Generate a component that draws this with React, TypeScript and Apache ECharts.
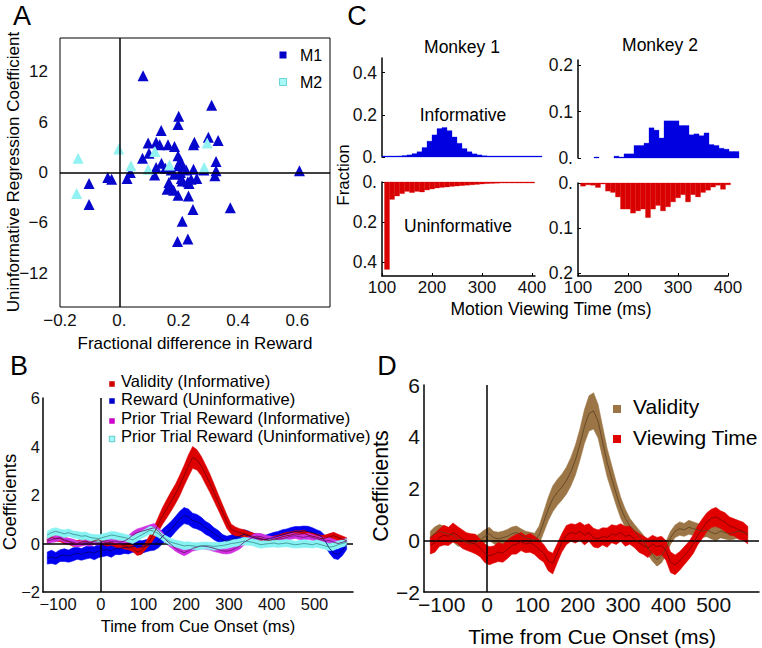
import React, { useEffect, useRef } from 'react';
import * as echarts from 'echarts';

const FONT = '"Liberation Sans", Arial, Helvetica, sans-serif';

// ---------- Panel A ----------
const m1Points: number[][] = [
  [0.08, 11.5], [-0.102, -1.3], [-0.102, -3.8], [-0.039, -0.6], [-0.026, -0.8], [0.026, -0.7],
  [0.037, 0.0], [0.078, 1.7], [0.097, 3.5], [0.1, 2.3], [0.124, 3.6], [0.136, 3.3], [0.141, 5.0],
  [0.142, 1.1], [0.119, -0.3], [0.124, 0.6], [0.164, 3.3], [0.186, 3.1], [0.2, 6.7], [0.198, 5.7],
  [0.198, 2.0], [0.206, 1.4], [0.198, 0.8], [0.21, 0.9], [0.206, 0.0], [0.209, -0.7], [0.212, -1.0],
  [0.167, -1.2], [0.169, -1.8], [0.161, -2.0], [0.183, -2.1], [0.198, -2.7], [0.231, -1.1],
  [0.242, -0.8], [0.25, 3.3], [0.253, 3.6], [0.25, 0.4], [0.261, -0.7], [0.233, -2.8], [0.248, -4.4],
  [0.212, -5.8], [0.196, -8.2], [0.231, -7.9], [0.3, 4.2], [0.311, 8.0], [0.333, 3.8], [0.326, 1.3],
  [0.326, 0.2], [0.322, -0.4], [0.374, -4.2], [0.607, 0.2], [0.155, 0.5], [0.175, 0.3], [0.185, -0.2],
  [0.225, 0.3], [0.235, -1.3], [0.285, 0.3]
];
const m2Points: number[][] = [
  [-0.139, 1.7], [-0.144, -2.5], [-0.002, 2.8], [0.039, 0.8], [0.097, 0.4], [0.12, 2.5],
  [0.169, 0.9], [0.296, 3.5], [0.286, 0.6]
];
const aXTicks = [-0.2, 0, 0.2, 0.4, 0.6];
const aYTicks = [-12, -6, 0, 6, 12];

// ---------- Panel C (histograms) ----------
const binWidthMs = 10;
const m1InfStarts = [100, 110, 120, 130, 140, 150, 160, 170, 180, 190, 200, 210, 220, 230, 240, 250, 260, 270, 280, 290, 300, 310, 320, 330, 340, 350, 360, 370, 380, 390, 400, 410];
const m1InfValues = [0.002, 0.002, 0.003, 0.005, 0.007, 0.01, 0.016, 0.025, 0.045, 0.075, 0.105, 0.135, 0.14, 0.125, 0.095, 0.065, 0.04, 0.025, 0.015, 0.01, 0.006, 0.004, 0.003, 0.002, 0.002, 0.002, 0.001, 0.001, 0.001, 0.001, 0.001, 0.001];
const m1UninfStarts = [105, 115, 125, 135, 145, 155, 165, 175, 185, 195, 205, 215, 225, 235, 245, 255, 265, 275, 285, 295, 305, 315, 325, 335, 345, 355, 365, 375, 385, 395];
const m1UninfValues = [0.437, 0.087, 0.07, 0.058, 0.047, 0.053, 0.047, 0.05, 0.04, 0.035, 0.03, 0.027, 0.025, 0.022, 0.02, 0.018, 0.016, 0.014, 0.012, 0.01, 0.008, 0.007, 0.006, 0.005, 0.004, 0.003, 0.003, 0.002, 0.002, 0.002];
const m2InfStarts = [132, 142, 152, 162, 172, 182, 192, 202, 212, 222, 232, 242, 252, 262, 272, 282, 292, 302, 312, 322, 332, 342, 352, 362, 372, 382, 392, 402, 412];
const m2InfValues = [0.002, 0, 0, 0, 0.004, 0.001, 0.009, 0.009, 0.027, 0.027, 0.032, 0.065, 0.06, 0.043, 0.08, 0.08, 0.08, 0.07, 0.07, 0.05, 0.052, 0.048, 0.054, 0.029, 0.027, 0.021, 0.019, 0.014, 0.014];
const m2UninfStarts = [105, 115, 125, 135, 145, 155, 165, 175, 185, 195, 205, 215, 225, 235, 245, 255, 265, 275, 285, 295, 305, 315, 325, 335, 345, 355, 365, 375, 385, 395];
const m2UninfValues = [0.007, 0.004, 0.005, 0.01, 0.002, 0.018, 0.021, 0.031, 0.058, 0.058, 0.067, 0.062, 0.058, 0.077, 0.058, 0.05, 0.062, 0.053, 0.042, 0.033, 0.026, 0.042, 0.026, 0.031, 0.021, 0.016, 0.009, 0.005, 0.014, 0.004];
const cXTicks = [100, 200, 300, 400];

// ---------- Panels B and D (time courses) ----------
const timeMs = [-125, -115, -105, -95, -85, -75, -65, -55, -45, -35, -25, -15, -5, 5, 15, 25, 35, 45, 55, 65, 75, 85, 95, 105, 115, 125, 135, 145, 155, 165, 175, 185, 195, 205, 215, 225, 235, 245, 255, 265, 275, 285, 295, 305, 315, 325, 335, 345, 355, 365, 375, 385, 395, 405, 415, 425, 435, 445, 455, 465, 475, 485, 495, 505, 515, 525, 535, 545, 555, 565, 575];
const timeTicks = [-100, 0, 100, 200, 300, 400, 500];

const bValidityMean = [0.15, 0.25, 0.2, 0.22, 0.12, 0.08, 0.02, 0.0, 0.06, 0.1, 0.04, 0.12, 0.15, 0.08, 0.03, 0.05, -0.02, -0.05, -0.1, -0.12, -0.2, -0.35, -0.3, -0.1, 0.15, 0.45, 0.8, 1.15, 1.45, 1.75, 2.05, 2.4, 2.8, 3.2, 3.55, 3.45, 3.2, 2.85, 2.5, 2.1, 1.7, 1.3, 0.9, 0.6, 0.5, 0.45, 0.42, 0.35, 0.3, 0.25, 0.2, 0.15, 0.12, 0.18, 0.22, 0.28, 0.32, 0.35, 0.4, 0.38, 0.42, 0.35, 0.3, 0.26, 0.2, 0.22, 0.28, 0.32, 0.25, 0.18, 0.12];
const bValidityErr = [0.12, 0.13, 0.12, 0.14, 0.13, 0.12, 0.13, 0.12, 0.13, 0.14, 0.12, 0.13, 0.12, 0.13, 0.14, 0.12, 0.13, 0.12, 0.13, 0.14, 0.13, 0.14, 0.15, 0.15, 0.2, 0.25, 0.3, 0.35, 0.38, 0.4, 0.4, 0.42, 0.42, 0.45, 0.45, 0.42, 0.4, 0.4, 0.38, 0.35, 0.32, 0.3, 0.28, 0.2, 0.18, 0.16, 0.15, 0.14, 0.14, 0.13, 0.13, 0.13, 0.14, 0.13, 0.12, 0.13, 0.14, 0.13, 0.13, 0.14, 0.13, 0.12, 0.13, 0.13, 0.14, 0.13, 0.13, 0.14, 0.13, 0.13, 0.12];
const bRewardMean = [-0.6, -0.55, -0.62, -0.5, -0.48, -0.52, -0.45, -0.4, -0.45, -0.38, -0.35, -0.4, -0.3, -0.28, -0.25, -0.3, -0.2, -0.22, -0.15, -0.18, -0.12, -0.1, -0.15, -0.1, -0.05, -0.02, 0.1, 0.3, 0.45, 0.6, 0.8, 1.0, 1.15, 1.1, 0.95, 0.9, 0.8, 0.65, 0.55, 0.4, 0.3, 0.15, 0.1, 0.15, 0.25, 0.3, 0.38, 0.32, 0.25, 0.2, 0.18, 0.15, 0.2, 0.25, 0.3, 0.35, 0.4, 0.45, 0.5, 0.48, 0.52, 0.5, 0.45, 0.38, 0.3, 0.1, -0.2, -0.4, -0.45, -0.3, -0.05];
const bRewardErr = [0.25, 0.27, 0.25, 0.24, 0.26, 0.25, 0.27, 0.25, 0.24, 0.26, 0.25, 0.27, 0.28, 0.26, 0.25, 0.27, 0.25, 0.24, 0.26, 0.25, 0.24, 0.25, 0.26, 0.25, 0.25, 0.26, 0.28, 0.3, 0.3, 0.32, 0.32, 0.33, 0.33, 0.32, 0.3, 0.3, 0.28, 0.27, 0.26, 0.25, 0.24, 0.22, 0.2, 0.2, 0.2, 0.2, 0.19, 0.2, 0.18, 0.19, 0.2, 0.19, 0.2, 0.21, 0.2, 0.22, 0.2, 0.21, 0.2, 0.22, 0.2, 0.21, 0.2, 0.19, 0.2, 0.22, 0.2, 0.22, 0.21, 0.2, 0.2];
const bPriorInfMean = [0.1, 0.15, 0.2, 0.25, 0.15, 0.1, 0.05, -0.02, 0.0, 0.05, 0.02, 0.08, 0.05, 0.1, 0.12, 0.08, 0.1, 0.05, 0.1, 0.2, 0.35, 0.45, 0.5, 0.55, 0.6, 0.65, 0.5, 0.3, 0.1, -0.05, -0.2, -0.3, -0.38, -0.3, -0.2, -0.15, -0.1, -0.12, -0.15, -0.2, -0.25, -0.3, -0.32, -0.28, -0.2, -0.1, 0.05, 0.15, 0.25, 0.3, 0.28, 0.22, 0.2, 0.15, 0.18, 0.2, 0.25, 0.3, 0.32, 0.28, 0.25, 0.3, 0.25, 0.2, 0.15, 0.1, 0.12, 0.05, 0.0, 0.05, 0.1];
const bPriorInfErr = [0.12, 0.11, 0.13, 0.12, 0.11, 0.12, 0.13, 0.12, 0.11, 0.12, 0.13, 0.12, 0.12, 0.11, 0.12, 0.13, 0.12, 0.11, 0.12, 0.13, 0.14, 0.15, 0.15, 0.16, 0.17, 0.17, 0.16, 0.15, 0.14, 0.13, 0.12, 0.12, 0.13, 0.12, 0.11, 0.12, 0.12, 0.11, 0.12, 0.13, 0.12, 0.12, 0.11, 0.12, 0.12, 0.13, 0.12, 0.11, 0.12, 0.12, 0.13, 0.12, 0.11, 0.12, 0.12, 0.13, 0.12, 0.12, 0.11, 0.12, 0.13, 0.12, 0.12, 0.11, 0.12, 0.12, 0.13, 0.12, 0.11, 0.12, 0.12];
const bPriorUninfMean = [0.35, 0.45, 0.5, 0.45, 0.4, 0.45, 0.38, 0.35, 0.3, 0.32, 0.25, 0.22, 0.2, 0.25, 0.3, 0.35, 0.32, 0.28, 0.25, 0.2, 0.15, 0.25, 0.35, 0.45, 0.55, 0.5, 0.4, 0.25, 0.15, 0.05, 0.0, -0.05, -0.1, -0.08, -0.1, -0.12, -0.1, -0.08, -0.1, -0.12, -0.1, -0.08, -0.05, 0.0, 0.02, 0.05, 0.1, 0.08, 0.05, 0.0, -0.05, -0.02, 0.0, 0.02, -0.02, 0.0, 0.02, -0.02, -0.05, -0.03, 0.0, -0.02, -0.05, 0.0, -0.05, -0.1, -0.15, -0.12, -0.05, 0.0, 0.05];
const bPriorUninfErr = [0.15, 0.16, 0.15, 0.14, 0.16, 0.15, 0.14, 0.15, 0.16, 0.15, 0.14, 0.15, 0.16, 0.15, 0.14, 0.15, 0.16, 0.15, 0.14, 0.15, 0.15, 0.16, 0.15, 0.15, 0.16, 0.16, 0.15, 0.14, 0.15, 0.15, 0.14, 0.15, 0.16, 0.15, 0.14, 0.15, 0.15, 0.14, 0.15, 0.16, 0.15, 0.14, 0.15, 0.15, 0.14, 0.15, 0.16, 0.15, 0.14, 0.15, 0.15, 0.14, 0.15, 0.16, 0.15, 0.14, 0.15, 0.15, 0.14, 0.15, 0.16, 0.15, 0.14, 0.15, 0.15, 0.14, 0.15, 0.16, 0.15, 0.14, 0.15];

const dValidityMean = [0.1, 0.25, 0.35, 0.3, 0.25, 0.2, 0.05, 0.0, -0.1, -0.15, -0.1, 0.0, 0.15, 0.25, 0.1, 0.05, 0.1, 0.15, 0.25, 0.3, 0.2, 0.1, 0.05, 0.0, 0.2, 0.7, 1.2, 1.6, 1.85, 2.05, 2.3, 2.65, 3.1, 3.7, 4.4, 4.9, 5.0, 4.6, 3.8, 3.0, 2.4, 1.8, 1.25, 0.85, 0.55, 0.35, 0.15, -0.05, -0.3, -0.55, -0.75, -0.6, -0.3, 0.1, 0.35, 0.45, 0.4, 0.5, 0.45, 0.4, 0.35, 0.4, 0.3, 0.25, 0.35, 0.3, 0.25, 0.3, 0.35, 0.3, 0.25];
const dValidityErr = [0.25, 0.27, 0.26, 0.25, 0.24, 0.26, 0.27, 0.25, 0.24, 0.26, 0.25, 0.27, 0.26, 0.25, 0.24, 0.26, 0.25, 0.27, 0.26, 0.25, 0.24, 0.25, 0.26, 0.27, 0.35, 0.4, 0.45, 0.5, 0.5, 0.5, 0.52, 0.55, 0.58, 0.6, 0.65, 0.68, 0.7, 0.65, 0.6, 0.55, 0.5, 0.45, 0.4, 0.35, 0.3, 0.27, 0.26, 0.25, 0.27, 0.26, 0.25, 0.27, 0.26, 0.25, 0.24, 0.26, 0.25, 0.27, 0.26, 0.25, 0.24, 0.26, 0.25, 0.27, 0.26, 0.25, 0.24, 0.26, 0.25, 0.27, 0.26];
const dViewingMean = [-0.2, -0.1, 0.1, 0.2, 0.15, 0.3, 0.2, 0.05, -0.05, -0.1, -0.15, -0.3, -0.5, -0.6, -0.55, -0.45, -0.5, -0.35, -0.2, -0.15, -0.05, -0.15, -0.1, -0.2, -0.35, -0.5, -0.8, -0.9, -0.5, -0.1, 0.2, 0.3, 0.25, 0.35, 0.2, 0.3, 0.1, 0.05, 0.15, 0.1, 0.25, 0.2, 0.3, 0.15, 0.2, 0.05, -0.1, -0.2, -0.3, -0.15, -0.25, -0.2, -0.4, -0.85, -0.95, -0.8, -0.6, -0.4, -0.15, 0.2, 0.45, 0.7, 0.85, 0.9, 0.8, 0.7, 0.55, 0.5, 0.4, 0.35, 0.2];
const dViewingErr = [0.33, 0.36, 0.34, 0.38, 0.35, 0.37, 0.33, 0.36, 0.34, 0.35, 0.38, 0.34, 0.36, 0.35, 0.33, 0.37, 0.35, 0.36, 0.34, 0.38, 0.35, 0.33, 0.36, 0.35, 0.37, 0.34, 0.38, 0.4, 0.36, 0.35, 0.37, 0.34, 0.36, 0.35, 0.38, 0.34, 0.36, 0.35, 0.33, 0.37, 0.35, 0.36, 0.34, 0.38, 0.35, 0.33, 0.36, 0.35, 0.37, 0.34, 0.36, 0.35, 0.38, 0.4, 0.38, 0.36, 0.35, 0.34, 0.36, 0.37, 0.38, 0.36, 0.35, 0.37, 0.34, 0.36, 0.35, 0.33, 0.36, 0.35, 0.34];

// ---------- helpers ----------
const minusFmt = (v: number) => (v < 0 ? '\u2212' + Math.abs(v) : String(v));
const fmtA = (v: number) => (v === 0 ? '0.' : v < 0 ? '\u2212' + Math.abs(v).toFixed(1) : v.toFixed(1));
const fmtC = (v: number) => (v === 0 ? '0.' : v.toFixed(1));
const black = { color: '#000', width: 1.5 };

function labelStyle(size: number, margin: number, extra: any = {}) {
  return { fontSize: size, fontFamily: FONT, color: '#111', margin, ...extra };
}

function histSeries(idx: number, starts: number[], values: number[], color: string) {
  return {
    type: 'custom',
    xAxisIndex: idx,
    yAxisIndex: idx,
    silent: true,
    data: starts.map((s, i) => [s, s + binWidthMs, values[i]]),
    encode: { x: [0, 1], y: 2 },
    renderItem: (params: any, api: any) => {
      const x0 = api.value(0);
      const x1 = api.value(1);
      const v = api.value(2);
      if (!(v > 0)) return null;
      const p0 = api.coord([x0, 0]);
      const p1 = api.coord([x1, v]);
      const h = Math.max(Math.abs(p1[1] - p0[1]), 1);
      const top = p1[1] < p0[1] ? p0[1] - h : p0[1];
      return {
        type: 'rect',
        shape: { x: p0[0], y: top, width: p1[0] - p0[0], height: h },
        style: { fill: color, stroke: color, lineWidth: 0.3 }
      };
    }
  };
}

function bandSeries(idx: number, mean: number[], err: number[], color: string, z: number) {
  return {
    type: 'custom',
    xAxisIndex: idx,
    yAxisIndex: idx,
    silent: true,
    z,
    clip: true,
    data: timeMs.map((t, i) => [t, mean[i] - err[i], mean[i] + err[i]]),
    encode: { x: 0, y: [1, 2] },
    renderItem: (params: any, api: any) => {
      if (params.dataIndex !== 0) return null;
      const up = timeMs.map((t, i) => api.coord([t, mean[i] + err[i]]));
      const lo = timeMs.map((t, i) => api.coord([t, mean[i] - err[i]])).reverse();
      return {
        type: 'polygon',
        shape: { points: up.concat(lo) },
        style: { fill: color, stroke: color, lineWidth: 0.6 }
      };
    }
  };
}

function meanSeries(idx: number, mean: number[], color: string, z: number, extra: any = {}) {
  return {
    type: 'line',
    xAxisIndex: idx,
    yAxisIndex: idx,
    silent: true,
    z,
    showSymbol: false,
    symbol: 'none',
    data: timeMs.map((t, i) => [t, mean[i]]),
    lineStyle: { color, width: 0.8 },
    ...extra
  };
}

const zeroLines = {
  symbol: ['none', 'none'],
  silent: true,
  label: { show: false },
  lineStyle: { color: '#000', width: 1.5, type: 'solid' },
  data: [{ xAxis: 0 }, { yAxis: 0 }]
};

function txt(text: string, x: number, y: number, size: number, opts: any = {}) {
  return {
    type: 'text',
    x,
    y,
    rotation: opts.rotation || 0,
    z: 100,
    silent: true,
    style: {
      text,
      fontSize: size,
      fontFamily: FONT,
      fill: '#000',
      align: opts.align || 'center',
      verticalAlign: 'middle'
    }
  };
}

function sq(cx: number, cy: number, s: number, fill: string, stroke?: string) {
  return {
    type: 'rect',
    z: 100,
    silent: true,
    shape: { x: cx - s / 2, y: cy - s / 2, width: s, height: s },
    style: { fill, stroke: stroke || fill, lineWidth: stroke ? 1 : 0 }
  };
}

const cYAxis = (idx: number, max: number, ticks: number[], inverse: boolean) => ({
  gridIndex: idx,
  type: 'value',
  min: 0,
  max,
  inverse,
  splitLine: { show: false },
  axisLine: { show: true, onZero: false, lineStyle: black },
  axisTick: { show: true, inside: true, length: 3, customValues: ticks, lineStyle: { color: '#000' } },
  axisLabel: labelStyle(17.5, 5, { customValues: ticks, formatter: fmtC })
});

const cXAxisBottom = (idx: number, max: number) => ({
  gridIndex: idx,
  type: 'value',
  min: 100,
  max,
  splitLine: { show: false },
  axisLine: { show: true, onZero: false, lineStyle: black },
  axisTick: { show: true, inside: true, length: 3, customValues: cXTicks, lineStyle: { color: '#000' } },
  axisLabel: labelStyle(17, 3, { customValues: cXTicks })
});

const gridBase = { containLabel: false, outerBoundsMode: 'none' };

const option: any = {
  animation: false,
  backgroundColor: '#fff',
  grid: [
    { ...gridBase, left: 60, top: 38, width: 270, height: 269, show: true, borderColor: '#000', borderWidth: 1 },
    { ...gridBase, left: 382, top: 58, width: 160, height: 99 },
    { ...gridBase, left: 382, top: 182, width: 153, height: 94 },
    { ...gridBase, left: 578, top: 60, width: 161, height: 98 },
    { ...gridBase, left: 578, top: 183, width: 150, height: 93 },
    { ...gridBase, left: 43, top: 398, width: 310, height: 194 },
    { ...gridBase, left: 424, top: 385, width: 335, height: 207 }
  ],
  xAxis: [
    {
      gridIndex: 0, type: 'value', min: -0.2, max: 0.71,
      splitLine: { show: false }, axisLine: { show: false }, axisTick: { show: false },
      axisLabel: labelStyle(17, 5, { customValues: aXTicks, formatter: fmtA })
    },
    { gridIndex: 1, type: 'value', min: 100, max: 420, show: false, splitLine: { show: false } },
    cXAxisBottom(2, 406),
    { gridIndex: 3, type: 'value', min: 100, max: 422, show: false, splitLine: { show: false } },
    cXAxisBottom(4, 400),
    {
      gridIndex: 5, type: 'value', min: -135, max: 590,
      splitLine: { show: false }, axisLine: { show: true, onZero: false, lineStyle: black }, axisTick: { show: false },
      axisLabel: labelStyle(16.5, 3, { customValues: timeTicks, formatter: minusFmt })
    },
    {
      gridIndex: 6, type: 'value', min: -139, max: 600,
      splitLine: { show: false }, axisLine: { show: true, onZero: false, lineStyle: black }, axisTick: { show: false },
      axisLabel: labelStyle(21, 2, { customValues: timeTicks, formatter: minusFmt })
    }
  ],
  yAxis: [
    {
      gridIndex: 0, type: 'value', min: -16, max: 16,
      splitLine: { show: false }, axisLine: { show: false }, axisTick: { show: false },
      axisLabel: labelStyle(17, 12, { customValues: aYTicks, formatter: minusFmt })
    },
    cYAxis(1, 0.47, [0, 0.2, 0.4], false),
    cYAxis(2, 0.47, [0, 0.2, 0.4], true),
    cYAxis(3, 0.211, [0, 0.1, 0.2], false),
    cYAxis(4, 0.207, [0, 0.1, 0.2], true),
    {
      gridIndex: 5, type: 'value', min: -2, max: 6, interval: 2,
      splitLine: { show: false }, axisLine: { show: true, onZero: false, lineStyle: black }, axisTick: { show: false },
      axisLabel: labelStyle(16.5, 3, { formatter: minusFmt })
    },
    {
      gridIndex: 6, type: 'value', min: -2, max: 6, interval: 2,
      splitLine: { show: false }, axisLine: { show: true, onZero: false, lineStyle: black }, axisTick: { show: false },
      axisLabel: labelStyle(21, 4, { formatter: minusFmt })
    }
  ],
  series: [
    {
      name: 'M1', type: 'scatter', xAxisIndex: 0, yAxisIndex: 0, symbol: 'triangle', symbolSize: 11,
      itemStyle: { color: '#0606cc', opacity: 1 }, data: m1Points, z: 3, markLine: zeroLines
    },
    {
      name: 'M2', type: 'scatter', xAxisIndex: 0, yAxisIndex: 0, symbol: 'triangle', symbolSize: 11,
      itemStyle: { color: '#92f2f2', opacity: 1 }, data: m2Points, z: 4
    },
    histSeries(1, m1InfStarts, m1InfValues, '#0000e0'),
    histSeries(2, m1UninfStarts, m1UninfValues, '#d80000'),
    histSeries(3, m2InfStarts, m2InfValues, '#0000e0'),
    histSeries(4, m2UninfStarts, m2UninfValues, '#d80000'),

    bandSeries(5, bRewardMean, bRewardErr, '#0000f0', 2),
    bandSeries(5, bValidityMean, bValidityErr, '#dc0000', 3),
    bandSeries(5, bPriorInfMean, bPriorInfErr, '#d030e0', 4),
    bandSeries(5, bPriorUninfMean, bPriorUninfErr, '#86f2f2', 5),
    meanSeries(5, bRewardMean, '#000070', 6),
    meanSeries(5, bValidityMean, '#7a0000', 6),
    meanSeries(5, bPriorInfMean, '#6a106a', 6),
    meanSeries(5, bPriorUninfMean, '#3a8a8a', 7, { markLine: zeroLines }),

    bandSeries(6, dValidityMean, dValidityErr, '#9b7545', 2),
    bandSeries(6, dViewingMean, dViewingErr, '#e00000', 3),
    meanSeries(6, dValidityMean, '#5a4020', 6),
    meanSeries(6, dViewingMean, '#7a0000', 7, { markLine: zeroLines })
  ],
  graphic: [
    // Panel letters
    txt('A', 22, 16, 27),
    txt('C', 357, 16, 27),
    txt('B', 19, 366, 27),
    txt('D', 387, 366, 27),
    // Panel A
    txt('Uninformative Regression Coefficient', 13, 172, 17, { rotation: Math.PI / 2 }),
    txt('Fractional difference in Reward', 195, 343, 17),
    sq(283, 55, 7, '#0000c8'),
    txt('M1', 300, 55, 16, { align: 'left' }),
    sq(283, 82, 7, '#a8f8f8', '#6cd4d4'),
    txt('M2', 300, 82, 16, { align: 'left' }),
    // Panel C
    txt('Monkey 1', 462, 47, 17.5),
    txt('Monkey 2', 660, 45, 17.5),
    txt('Informative', 463, 115, 17.5),
    txt('Uninformative', 458, 226, 17.5),
    txt('Fraction', 343, 175, 17, { rotation: Math.PI / 2 }),
    txt('Motion Viewing Time (ms)', 551, 309, 17.5),
    // Panel B
    txt('Coefficients', 9, 502, 18.5, { rotation: Math.PI / 2 }),
    txt('Time from Cue Onset (ms)', 198, 626, 16.5),
    sq(112, 384, 5.5, '#cc0000'),
    txt('Validity (Informative)', 121, 381, 16.5, { align: 'left' }),
    sq(112, 401, 5.5, '#0000cc'),
    txt('Reward (Uninformative)', 121, 399, 16.5, { align: 'left' }),
    sq(112, 421, 5.5, '#cc00cc'),
    txt('Prior Trial Reward (Informative)', 121, 418, 16.5, { align: 'left' }),
    sq(112, 439, 5.5, '#a0f8f8', '#60c8c8'),
    txt('Prior Trial Reward (Uninformative)', 121, 436, 16.5, { align: 'left' }),
    // Panel D
    txt('Coefficients', 381, 486, 21.4, { rotation: Math.PI / 2 }),
    txt('Time from Cue Onset (ms)', 592, 636, 21),
    sq(617, 409, 8, '#9b7545'),
    txt('Validity', 633, 406, 21, { align: 'left' }),
    sq(617, 439, 8, '#e00000'),
    txt('Viewing Time', 633, 437, 21, { align: 'left' })
  ]
};

export default function App() {
  const ref = useRef<HTMLDivElement>(null);
  useEffect(() => {
    if (!ref.current) return;
    const chart = echarts.init(ref.current, null, { renderer: 'svg' });
    chart.setOption(option);
    return () => chart.dispose();
  }, []);
  return (
    <div
      ref={ref}
      style={{ position: 'absolute', left: 0, top: 0, width: 762, height: 648, background: '#fff' }}
    />
  );
}
